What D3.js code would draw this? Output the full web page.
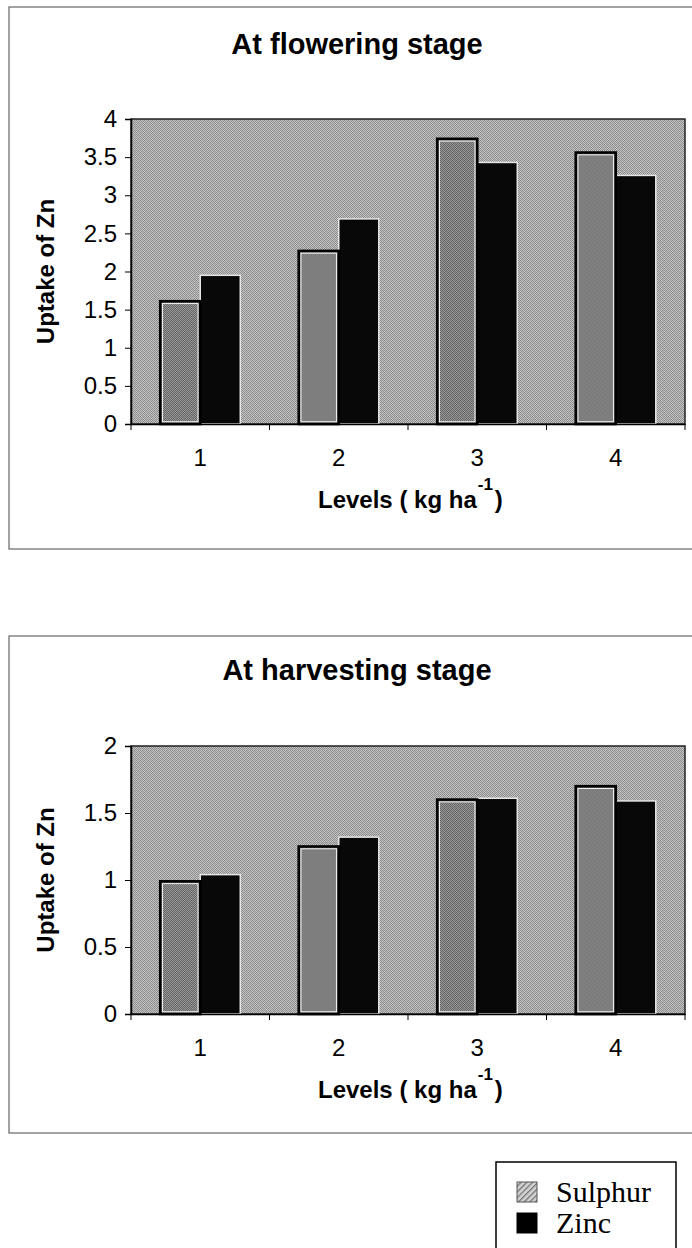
<!DOCTYPE html>
<html><head><meta charset="utf-8">
<script src="https://cdn.jsdelivr.net/npm/d3@7"></script>
<style>body{margin:0;background:#fff}svg{display:block}</style>
</head><body>
<svg id="c" width="692" height="1248"></svg>
<script>
// ---- data ----
const categories = ["1", "2", "3", "4"];
const seriesNames = ["Sulphur", "Zinc"];
const floweringSulphur = [1.61, 2.27, 3.74, 3.56];
const floweringZinc    = [1.95, 2.69, 3.43, 3.26];
const harvestSulphur   = [0.99, 1.25, 1.60, 1.70];
const harvestZinc      = [1.04, 1.32, 1.61, 1.59];
const floweringTicks = [0, 0.5, 1, 1.5, 2, 2.5, 3, 3.5, 4];
const harvestTicks   = [0, 0.5, 1, 1.5, 2];
const chartTitles = ["At flowering stage", "At harvesting stage"];
const yAxisTitle = "Uptake of Zn";
const xAxisTitle = "Levels ( kg ha";
const xAxisSup = "-1";

const svg = d3.select("#c");
const defs = svg.append("defs");

// halftone-like textures
function texture(id, colors) {
  const p = defs.append("pattern").attr("id", id).attr("patternUnits", "userSpaceOnUse")
    .attr("width", 4).attr("height", 4);
  colors.forEach((row, j) => row.forEach((c, i) => {
    p.append("rect").attr("x", i).attr("y", j).attr("width", 1).attr("height", 1).attr("fill", c);
  }));
}
texture("bgTex", [
  ["#8a8a8a", "#c4c4c4", "#909090", "#bdbdbd"],
  ["#c0c0c0", "#959595", "#c8c8c8", "#8c8c8c"],
  ["#929292", "#bcbcbc", "#888888", "#c2c2c2"],
  ["#c6c6c6", "#8e8e8e", "#bebebe", "#939393"]
]);
texture("sulTex", [
  ["#666666", "#969696", "#6c6c6c", "#909090"],
  ["#929292", "#6a6a6a", "#989898", "#686868"],
  ["#6e6e6e", "#8e8e8e", "#646464", "#949494"],
  ["#969696", "#686868", "#909090", "#6c6c6c"]
]);
const hatch = defs.append("pattern").attr("id", "legHatch").attr("patternUnits", "userSpaceOnUse")
  .attr("width", 4).attr("height", 4).attr("patternTransform", "rotate(45)");
hatch.append("rect").attr("width", 4).attr("height", 4).attr("fill", "#d4d4d4");
hatch.append("rect").attr("width", 1.4).attr("height", 4).attr("fill", "#777");

const panels = [
  { title: chartTitles[0], s: floweringSulphur, z: floweringZinc, ticks: floweringTicks, max: 4,
    frameTop: 7, frameBottom: 549, plotTop: 119, plotBottom: 424, titleY: 54 },
  { title: chartTitles[1], s: harvestSulphur, z: harvestZinc, ticks: harvestTicks, max: 2,
    frameTop: 636, frameBottom: 1133, plotTop: 746, plotBottom: 1014, titleY: 680 }
];

const plotLeft = 131, plotRight = 685;
const font = "'Liberation Sans', Arial, sans-serif";

panels.forEach(P => {
  const g = svg.append("g");
  // outer frame
  g.append("rect").attr("x", 9).attr("y", P.frameTop).attr("width", 720)
    .attr("height", P.frameBottom - P.frameTop).attr("fill", "none")
    .attr("stroke", "#666").attr("stroke-width", 1.2);

  g.append("text").attr("x", 357).attr("y", P.titleY).attr("text-anchor", "middle")
    .attr("font-family", font).attr("font-weight", "bold").attr("font-size", 29)
    .attr("fill", "#000").text(P.title);

  const x0 = d3.scaleBand().domain(categories).range([plotLeft, plotRight]).padding(0);
  const x1 = d3.scaleBand().domain(seriesNames).range([0, x0.bandwidth()]).paddingInner(0).paddingOuter(0.73);
  const y = d3.scaleLinear().domain([0, P.max]).range([P.plotBottom, P.plotTop]);

  // plot background
  g.append("rect").attr("x", plotLeft).attr("y", P.plotTop)
    .attr("width", plotRight - plotLeft).attr("height", P.plotBottom - P.plotTop)
    .attr("fill", "url(#bgTex)").attr("stroke", "#222").attr("stroke-width", 1.5);

  const rows = categories.map((c, i) => ({ c, vals: [P.s[i], P.z[i]] }));
  const grp = g.selectAll(".grp").data(rows).join("g")
    .attr("transform", d => `translate(${x0(d.c)},0)`);

  // zinc bars
  grp.append("rect")
    .attr("x", x1("Zinc")).attr("y", d => y(d.vals[1]))
    .attr("width", x1.bandwidth()).attr("height", d => y(0) - y(d.vals[1]))
    .attr("fill", "#080808").attr("stroke", "#e6e6e6").attr("stroke-width", 1.5);
  // sulphur bars
  grp.append("rect")
    .attr("x", x1("Sulphur")).attr("y", d => y(d.vals[0]))
    .attr("width", x1.bandwidth()).attr("height", d => y(0) - y(d.vals[0]))
    .attr("fill", "url(#sulTex)").attr("stroke", "#000").attr("stroke-width", 2.6);
  grp.append("rect")
    .attr("x", x1("Sulphur") + 2.3).attr("y", d => y(d.vals[0]) + 2.3)
    .attr("width", x1.bandwidth() - 4.6).attr("height", d => Math.max(0, y(0) - y(d.vals[0]) - 4.6))
    .attr("fill", "none").attr("stroke", "#f0f0f0").attr("stroke-width", 1);

  // y axis
  const yAx = g.append("g").attr("transform", `translate(${plotLeft},0)`)
    .call(d3.axisLeft(y).tickValues(P.ticks).tickFormat(d => String(d)).tickSize(6).tickPadding(8));
  yAx.select(".domain").attr("stroke", "#000").attr("stroke-width", 1.5);
  yAx.selectAll(".tick line").attr("stroke", "#000").attr("stroke-width", 1);
  yAx.selectAll("text").attr("font-family", font).attr("font-size", 24).attr("fill", "#000");

  // x axis
  const xAx = g.append("g").attr("transform", `translate(0,${P.plotBottom})`)
    .call(d3.axisBottom(x0).tickSize(0).tickPadding(25));
  xAx.select(".domain").attr("stroke", "#000").attr("stroke-width", 1.5);
  xAx.selectAll("text").attr("font-family", font).attr("font-size", 24).attr("fill", "#000");
  // boundary ticks
  const bounds = categories.map(c => x0(c)).concat([plotRight]);
  g.selectAll(".bt").data(bounds).join("line")
    .attr("x1", d => d).attr("x2", d => d)
    .attr("y1", P.plotBottom).attr("y2", P.plotBottom + 6)
    .attr("stroke", "#000").attr("stroke-width", 1);

  // y axis title
  const cy = (P.plotTop + P.plotBottom) / 2;
  g.append("text").attr("transform", `translate(54,${cy}) rotate(-90)`)
    .attr("text-anchor", "middle").attr("font-family", font).attr("font-weight", "bold")
    .attr("font-size", 24).attr("fill", "#000").text(yAxisTitle);

  // x axis title
  const xt = g.append("text").attr("x", 318).attr("y", P.plotBottom + 84)
    .attr("font-family", font).attr("font-weight", "bold").attr("font-size", 24).attr("fill", "#000");
  xt.append("tspan").text(xAxisTitle);
  xt.append("tspan").attr("dx", 1).attr("dy", -18).attr("font-size", 17).text(xAxisSup);
  xt.append("tspan").attr("dx", 2).attr("dy", 18).text(")");
});

// legend
const lg = svg.append("g");
lg.append("rect").attr("x", 496).attr("y", 1162).attr("width", 180).attr("height", 100)
  .attr("fill", "#fff").attr("stroke", "#000").attr("stroke-width", 1.5);
const legRows = lg.selectAll(".lr").data(seriesNames).join("g")
  .attr("transform", (d, i) => `translate(0,${1182 + i * 31})`);
legRows.append("rect").attr("x", 517).attr("y", 0).attr("width", 20).attr("height", 20)
  .attr("fill", (d, i) => i === 0 ? "url(#legHatch)" : "#000")
  .attr("stroke", (d, i) => i === 0 ? "#555" : "#000").attr("stroke-width", 1);
legRows.append("text").attr("x", 556).attr("y", 20)
  .attr("font-family", "'Liberation Serif', 'Times New Roman', serif").attr("font-size", 30)
  .attr("fill", "#000").text(d => d);
</script>
</body></html>
